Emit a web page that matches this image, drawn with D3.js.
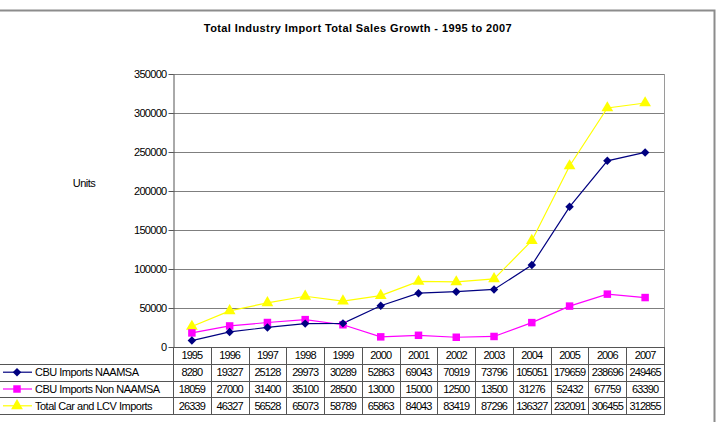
<!DOCTYPE html>
<html>
<head>
<meta charset="utf-8">
<script src="https://cdn.jsdelivr.net/npm/d3@7"></script>
<style>
  body { margin: 0; background: #fff; }
  text { font-family: "Liberation Sans", Arial, sans-serif; }
</style>
</head>
<body>
<svg id="chart"></svg>
<script>
const years = ["1995", "1996", "1997", "1998", "1999", "2000", "2001", "2002", "2003", "2004", "2005", "2006", "2007"];
const cbuNaamsa = [8280, 19327, 25128, 29973, 30289, 52863, 69043, 70919, 73796, 105051, 179659, 238696, 249465];
const cbuNonNaamsa = [18059, 27000, 31400, 35100, 28500, 13000, 15000, 12500, 13500, 31276, 52432, 67759, 63390];
const totalImports = [26339, 46327, 56528, 65073, 58789, 65863, 84043, 83419, 87296, 136327, 232091, 306455, 312855];
const seriesNames = ["CBU Imports NAAMSA", "CBU Imports Non NAAMSA", "Total Car and LCV Imports"];
const yTicks = [0, 50000, 100000, 150000, 200000, 250000, 300000, 350000];

const width = 717, height = 422;
const plotL = 173, plotR = 664, plotT = 74, plotB = 347;
const rowH = 16.8;

const series = [
    { name: seriesNames[0], values: cbuNaamsa, color: "#000080", symbol: d3.symbolSquare, size: 36, rot: 45 },
    { name: seriesNames[1], values: cbuNonNaamsa, color: "#ff00ff", symbol: d3.symbolSquare, size: 56, rot: 0 },
    { name: seriesNames[2], values: totalImports, color: "#ffff00", symbol: d3.symbolTriangle, size: 60, rot: 0 }
];

const svg = d3.select("#chart").attr("width", width).attr("height", height);

// outer frame
svg.append("path")
    .attr("d", "M0,10.5 H714.5 V422")
    .attr("fill", "none")
    .attr("stroke", "#8c8c8c")
    .attr("stroke-width", 2);

svg.append("text")
    .attr("x", 358)
    .attr("y", 32)
    .attr("text-anchor", "middle")
    .style("font-size", "11px")
    .style("font-weight", "bold")
    .style("letter-spacing", "0.4px")
    .text("Total Industry Import Total Sales Growth - 1995 to 2007");

svg.append("text")
    .attr("x", 84)
    .attr("y", 187)
    .attr("text-anchor", "middle")
    .style("font-size", "11px")
    .style("letter-spacing", "-0.5px")
    .text("Units");

const x = d3.scaleBand().domain(years).range([plotL, plotR]);
const y = d3.scaleLinear().domain([0, 350000]).range([plotB, plotT]);

// gridlines
svg.append("g")
    .selectAll("line")
    .data(yTicks.slice(1))
    .enter()
    .append("line")
    .attr("x1", plotL).attr("x2", plotR)
    .attr("y1", d => Math.round(y(d)) + 0.5)
    .attr("y2", d => Math.round(y(d)) + 0.5)
    .attr("stroke", "#7f7f7f");

// plot right border
svg.append("line")
    .attr("x1", plotR + 0.5).attr("x2", plotR + 0.5)
    .attr("y1", plotT).attr("y2", plotB)
    .attr("stroke", "#9a9a9a");

// y axis
const yAxis = svg.append("g")
    .attr("transform", "translate(" + (plotL + 0.5) + ",0)")
    .call(d3.axisLeft(y).tickValues(yTicks).tickFormat(d3.format("d")).tickSize(5).tickSizeOuter(0));
yAxis.select(".domain").attr("stroke", "#555");
yAxis.selectAll(".tick line").attr("stroke", "#555");
yAxis.selectAll(".tick text")
    .attr("x", -7)
    .style("font-family", "Liberation Sans, Arial, sans-serif")
    .style("font-size", "11px")
    .style("letter-spacing", "-0.7px")
    .attr("fill", "#000");

// lines + markers
const line = d3.line()
    .x((d, i) => x(years[i]) + x.bandwidth() / 2)
    .y(d => y(d));

const order = [2, 1, 0];
order.forEach(function (k) {
    const s = series[k];
    svg.append("path")
        .datum(s.values)
        .attr("fill", "none")
        .attr("stroke", s.color)
        .attr("stroke-width", 1.2)
        .attr("d", line);
});
order.forEach(function (k) {
    const s = series[k];
    svg.append("g")
        .selectAll("path")
        .data(s.values)
        .enter()
        .append("path")
        .attr("d", d3.symbol().type(s.symbol).size(s.size))
        .attr("transform", (d, i) => "translate(" + (x(years[i]) + x.bandwidth() / 2) + "," + y(d) + ") rotate(" + s.rot + ")")
        .attr("fill", s.color);
});

// x axis line
svg.append("line")
    .attr("x1", plotL).attr("x2", plotR + 1)
    .attr("y1", plotB + 0.5).attr("y2", plotB + 0.5)
    .attr("stroke", "#555");

// data table
const table = svg.append("g").attr("class", "table");
const tableBottom = plotB + rowH * 4;

// horizontal rules
[1, 2, 3, 4].forEach(function (r) {
    table.append("line")
        .attr("x1", 0).attr("x2", plotR + 1)
        .attr("y1", Math.round(plotB + rowH * r) + 0.5)
        .attr("y2", Math.round(plotB + rowH * r) + 0.5)
        .attr("stroke", "#555");
});

// vertical rules
const colEdges = years.map(d => x(d)).concat([plotR]);
table.selectAll("line.v")
    .data(colEdges)
    .enter()
    .append("line")
    .attr("class", "v")
    .attr("x1", d => Math.round(d) + 0.5)
    .attr("x2", d => Math.round(d) + 0.5)
    .attr("y1", plotB).attr("y2", tableBottom)
    .attr("stroke", "#555");

// header row
table.selectAll("text.year")
    .data(years)
    .enter()
    .append("text")
    .attr("class", "year")
    .attr("x", d => x(d) + x.bandwidth() / 2)
    .attr("y", plotB + rowH / 2 + 4)
    .attr("text-anchor", "middle")
    .style("font-size", "11px")
    .style("letter-spacing", "-0.9px")
    .text(d => d);

series.forEach(function (s, k) {
    const cy = plotB + rowH * (k + 1) + rowH / 2;
    const row = table.append("g");

    row.append("line")
        .attr("x1", 3).attr("x2", 32)
        .attr("y1", cy).attr("y2", cy)
        .attr("stroke", s.color)
        .attr("stroke-width", 1.2);
    row.append("path")
        .attr("d", d3.symbol().type(s.symbol).size(s.size))
        .attr("transform", "translate(17," + cy + ") rotate(" + s.rot + ")")
        .attr("fill", s.color);
    row.append("text")
        .attr("x", 35)
        .attr("y", cy + 4)
        .style("font-size", "11px")
        .style("letter-spacing", "-0.5px")
        .text(s.name);

    row.selectAll("text.val")
        .data(s.values)
        .enter()
        .append("text")
        .attr("class", "val")
        .attr("x", (d, i) => x(years[i]) + x.bandwidth() / 2)
        .attr("y", cy + 4)
        .attr("text-anchor", "middle")
        .style("font-size", "11px")
        .style("letter-spacing", "-0.9px")
        .text(d => d);
});
</script>
</body>
</html>
